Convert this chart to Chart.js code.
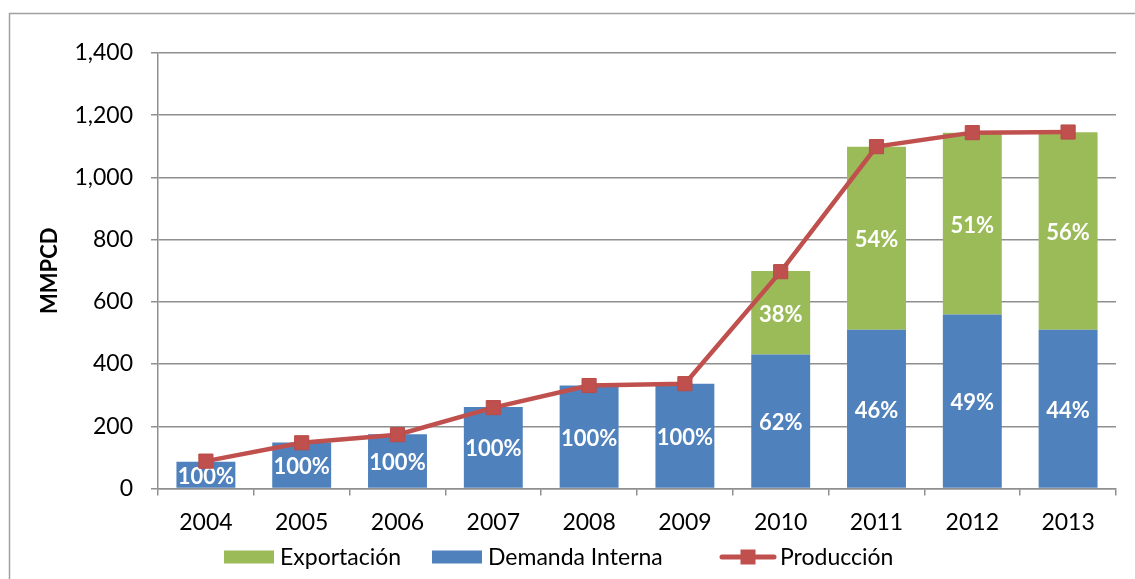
<!DOCTYPE html>
<html>
<head>
<meta charset="utf-8">
<script src="https://cdn.jsdelivr.net/npm/chart.js@4"></script>
<style>
  html, body { margin: 0; padding: 0; background: #fff; }
  #wrap { position: relative; width: 1135px; height: 579px; }
  canvas { position: absolute; left: 0; top: 0; }
</style>
</head>
<body>
<div id="wrap"><canvas id="c" width="1135" height="579"></canvas></div>
<script>
const categories = ['2004','2005','2006','2007','2008','2009','2010','2011','2012','2013'];
const demandaInterna = [86, 148, 174, 262, 331, 337, 431, 510, 559, 510];
const exportacion    = [0, 0, 0, 0, 0, 0, 268, 589, 585, 635];
const produccion     = [88, 147, 173, 260, 331, 337, 697, 1099, 1144, 1146];
const pctDemanda     = ['100%','100%','100%','100%','100%','100%','62%','46%','49%','44%'];
const pctExport      = ['','','','','','','38%','54%','51%','56%'];
const yTicks = [0, 200, 400, 600, 800, 1000, 1200, 1400];
const yTitle = 'MMPCD';

const FONT = 'Lato, "Open Sans", sans-serif';
const GRID = '#8f8f8f';

const labelPlugin = {
  id: 'segLabels',
  afterDatasetDraw(chart, args) {
    const idx = args.index;
    const arr = idx === 0 ? pctDemanda : (idx === 1 ? pctExport : null);
    if (!arr) return;
    const ctx = chart.ctx;
    ctx.save();
    ctx.fillStyle = '#ffffff';
    ctx.font = 'bold 22px ' + FONT;
    ctx.textAlign = 'center';
    ctx.textBaseline = 'middle';
    args.meta.data.forEach((el, i) => {
      if (!arr[i]) return;
      const y = (el.y + el.base) / 2 + 2;
      ctx.fillText(arr[i], el.x, y);
    });
    ctx.restore();
  }
};

const decoPlugin = {
  id: 'deco',
  beforeDraw(chart) {
    const ctx = chart.ctx;
    ctx.save();
    ctx.strokeStyle = '#a0a0a0';
    ctx.lineWidth = 1.5;
    ctx.strokeRect(9.5, 13.5, 1400, 800);
    ctx.restore();
  },
  afterDraw(chart) {
    const ctx = chart.ctx;
    const ca = chart.chartArea;
    ctx.save();
    ctx.translate(50, (ca.top + ca.bottom) / 2);
    ctx.rotate(-Math.PI / 2);
    ctx.fillStyle = '#000';
    ctx.font = 'bold 22px ' + FONT;
    ctx.textAlign = 'center';
    ctx.textBaseline = 'middle';
    ctx.fillText(yTitle, 0, 0);
    ctx.restore();

    // legend
    const ds = chart.data.datasets;
    const order = [1, 0, 2];
    const starts = [224, 432, 720];
    const cy = 557;
    ctx.save();
    ctx.font = '23px ' + FONT;
    ctx.textBaseline = 'middle';
    ctx.textAlign = 'left';
    order.forEach((di, k) => {
      const d = ds[di];
      let x = starts[k];
      if (d.type === 'line') {
        ctx.strokeStyle = d.borderColor;
        ctx.lineWidth = 5;
        ctx.lineCap = 'round';
        ctx.beginPath();
        ctx.moveTo(x + 2, cy);
        ctx.lineTo(x + 54, cy);
        ctx.stroke();
        ctx.fillStyle = d.pointBackgroundColor;
        ctx.fillRect(x + 28 - 7.5, cy - 7.5, 15, 15);
        x += 60;
      } else {
        ctx.fillStyle = d.backgroundColor;
        ctx.fillRect(x, cy - 6.5, 50, 13);
        x += 56;
      }
      ctx.fillStyle = '#000';
      ctx.fillText(d.label, x, cy + 1);
    });
    ctx.restore();
  }
};

new Chart(document.getElementById('c'), {
  data: {
    labels: categories,
    datasets: [
      {
        type: 'bar',
        label: 'Demanda Interna',
        data: demandaInterna,
        backgroundColor: '#4F81BD',
        stack: 'gas',
        barPercentage: 0.615,
        categoryPercentage: 1.0
      },
      {
        type: 'bar',
        label: 'Exportación',
        data: exportacion,
        backgroundColor: '#9BBB59',
        stack: 'gas',
        barPercentage: 0.615,
        categoryPercentage: 1.0
      },
      {
        type: 'line',
        label: 'Producción',
        data: produccion,
        borderColor: '#C0504D',
        borderWidth: 4.5,
        pointStyle: 'rect',
        pointRadius: 10,
        pointBackgroundColor: '#C0504D',
        pointBorderColor: '#B94B48',
        pointBorderWidth: 1,
        stack: 'prod',
        tension: 0,
        order: -1
      }
    ]
  },
  options: {
    responsive: false,
    animation: false,
    devicePixelRatio: 1,
    layout: { padding: { top: 53, right: 19, left: 0, bottom: 0 } },
    plugins: {
      legend: { display: false },
      tooltip: { enabled: false },
      title: { display: false }
    },
    scales: {
      x: {
        stacked: true,
        offset: true,
        grid: {
          display: true,
          offset: true,
          drawOnChartArea: false,
          drawTicks: true,
          tickLength: 7,
          color: GRID,
          lineWidth: 1.5
        },
        border: { display: true, color: GRID, width: 1.5 },
        ticks: {
          color: '#000',
          font: { family: FONT, size: 23 },
          padding: 13,
          maxRotation: 0
        },
        afterFit(scale) { scale.height = 90.5; }
      },
      y: {
        stacked: true,
        min: 0,
        max: 1400,
        afterBuildTicks(scale) { scale.ticks = yTicks.map(v => ({ value: v })); },
        grid: {
          color: GRID,
          lineWidth: 1.5,
          drawTicks: true,
          tickLength: 7
        },
        border: { display: true, color: GRID, width: 1.5 },
        ticks: {
          color: '#000',
          font: { family: FONT, size: 23 },
          padding: 18,
          callback: v => v.toLocaleString('en-US')
        },
        afterFit(scale) { scale.width = 158; }
      }
    }
  },
  plugins: [labelPlugin, decoPlugin]
});
</script>
</body>
</html>
